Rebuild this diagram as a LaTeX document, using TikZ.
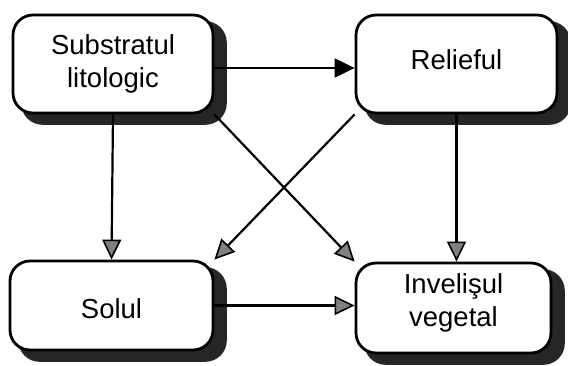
\documentclass[tikz,border=0pt]{standalone}
\usepackage{fontspec}
\setmainfont{Liberation Sans}
\usetikzlibrary{arrows.meta,backgrounds}
\begin{document}
\begin{tikzpicture}[x=1pt,y=-1pt,
  box/.style={draw=black, line width=2.8pt, fill=white, rounded corners=20pt,
    align=center, font=\fontsize{27.5}{33}\selectfont, inner sep=0pt},
  shadowbox/.style={fill=black!85, draw=black!85, line width=2.8pt, rounded corners=20pt},
  conn/.style={draw=black, line width=2.2pt,
    -{Triangle[length=20pt,width=19pt,fill=black!50,line width=1.6pt]}},
  connB/.style={draw=black, line width=2.2pt,
    -{Triangle[length=20pt,width=19pt,fill=black]}}]
\useasboundingbox (0,0) rectangle (568,365);
\node[box, minimum width=200pt, minimum height=98pt] (b1) at (113,64) {Substratul\\litologic};
\node[box, minimum width=201pt, minimum height=98pt, text depth=8pt] (b2) at (456.5,64) {Relieful};
\node[box, minimum width=203pt, minimum height=89pt, text height=26pt] (b3) at (111.5,305.5) {Solul};
\node[box, minimum width=195pt, minimum height=90pt, text depth=15pt] (b4) at (453.5,308) {Invelişul\\vegetal};
\begin{scope}[on background layer]
  \foreach \b in {b1,b2,b3,b4}
    \path[shadowbox] ([shift={(11pt,-9pt)}]\b.north west) rectangle ([shift={(11pt,-9pt)}]\b.south east);
\end{scope}
\draw[connB] ([yshift=-4pt]b1.east) -- ([yshift=-4pt]b2.west);
\draw[conn] (b1.south) -- (b3.north);
\draw[conn] (b1.south east) -- (b4.north west);
\draw[conn] (b2.south west) -- (b3.north east);
\draw[conn] (b2.south) -- (b2.south |- b4.north);
\draw[conn] (b3.east) -- (b3.east -| b4.west);
\end{tikzpicture}
\end{document}
